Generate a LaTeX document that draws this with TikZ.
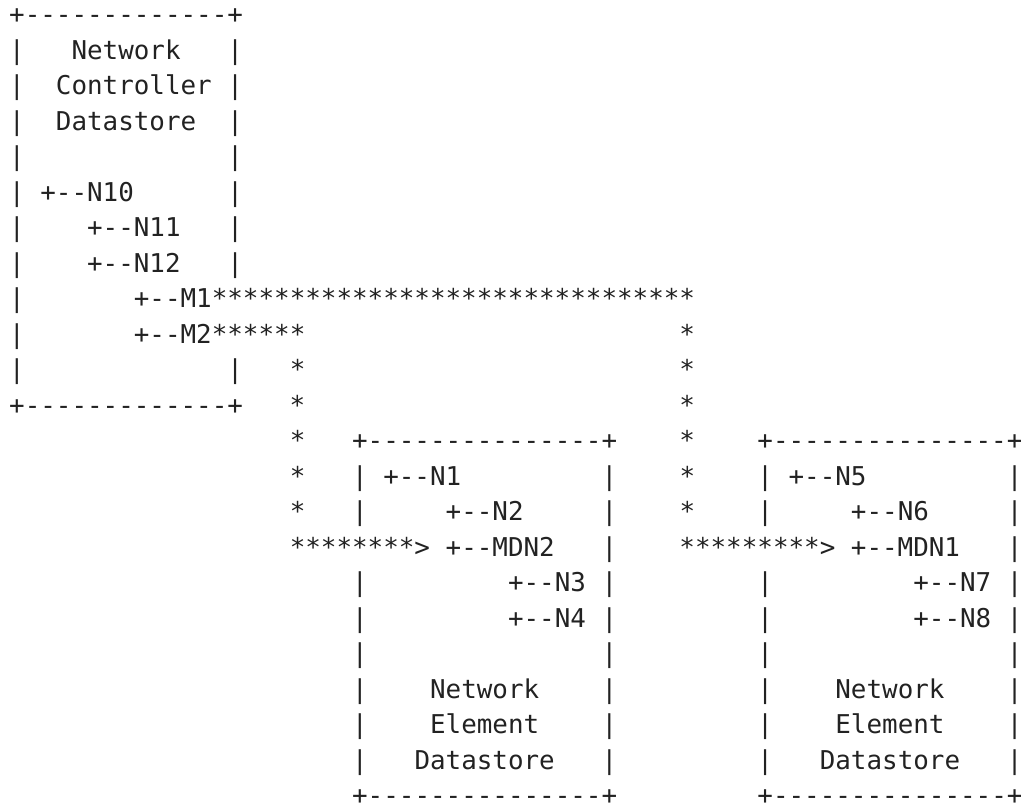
\documentclass[tikz,border=0pt]{standalone}
\usepackage{fontspec}
\setmonofont{DejaVu Sans Mono}
\usepackage{tikz}

\definecolor{asciiink}{RGB}{34,34,34}
\tikzset{ascii/.style={anchor=base west,inner sep=0pt,text=asciiink,font=\ttfamily\fontsize{19.42}{23}\selectfont}}

\begin{document}
\begin{tikzpicture}[x=0.75pt,y=0.75pt,yscale=-1,xscale=1]
%set diagram left start at 0, and has height of 810
\useasboundingbox (0,0) rectangle (1021,810);

% Text Node
\draw (8.9,23.5) node [ascii] (l1) {+-------------+};
% Text Node
\draw (8.9,59) node [ascii] (l2) {|~~~Network~~~|};
% Text Node
\draw (8.9,94.5) node [ascii] (l3) {|~~Controller~|};
% Text Node
\draw (8.9,130) node [ascii] (l4) {|~~Datastore~~|};
% Text Node
\draw (8.9,165.5) node [ascii] (l5) {|~~~~~~~~~~~~~|};
% Text Node
\draw (8.9,201) node [ascii] (l6) {|~+--N10~~~~~~|};
% Text Node
\draw (8.9,236.5) node [ascii] (l7) {|~~~~+--N11~~~|};
% Text Node
\draw (8.9,272) node [ascii] (l8) {|~~~~+--N12~~~|};
% Text Node
\draw (8.9,307.5) node [ascii] (l9) {|~~~~~~~+--M1*******************************};
% Text Node
\draw (8.9,343) node [ascii] (l10) {|~~~~~~~+--M2******~~~~~~~~~~~~~~~~~~~~~~~~*};
% Text Node
\draw (8.9,378.5) node [ascii] (l11) {|~~~~~~~~~~~~~|~~~*~~~~~~~~~~~~~~~~~~~~~~~~*};
% Text Node
\draw (8.9,414) node [ascii] (l12) {+-------------+~~~*~~~~~~~~~~~~~~~~~~~~~~~~*};
% Text Node
\draw (289.52,449.5) node [ascii] (l13) {*~~~+---------------+~~~~*~~~~+---------------+};
% Text Node
\draw (289.52,485) node [ascii] (l14) {*~~~|~+--N1~~~~~~~~~|~~~~*~~~~|~+--N5~~~~~~~~~|};
% Text Node
\draw (289.52,520.5) node [ascii] (l15) {*~~~|~~~~~+--N2~~~~~|~~~~*~~~~|~~~~~+--N6~~~~~|};
% Text Node
\draw (289.52,556) node [ascii] (l16) {********>~+--MDN2~~~|~~~~*********>~+--MDN1~~~|};
% Text Node
\draw (351.88,591.5) node [ascii] (l17) {|~~~~~~~~~+--N3~|~~~~~~~~~|~~~~~~~~~+--N7~|};
% Text Node
\draw (351.88,627) node [ascii] (l18) {|~~~~~~~~~+--N4~|~~~~~~~~~|~~~~~~~~~+--N8~|};
% Text Node
\draw (351.88,662.5) node [ascii] (l19) {|~~~~~~~~~~~~~~~|~~~~~~~~~|~~~~~~~~~~~~~~~|};
% Text Node
\draw (351.88,698) node [ascii] (l20) {|~~~~Network~~~~|~~~~~~~~~|~~~~Network~~~~|};
% Text Node
\draw (351.88,733.5) node [ascii] (l21) {|~~~~Element~~~~|~~~~~~~~~|~~~~Element~~~~|};
% Text Node
\draw (351.88,769) node [ascii] (l22) {|~~~Datastore~~~|~~~~~~~~~|~~~Datastore~~~|};
% Text Node
\draw (351.88,804.5) node [ascii] (l23) {+---------------+~~~~~~~~~+---------------+};
\end{tikzpicture}
\end{document}
